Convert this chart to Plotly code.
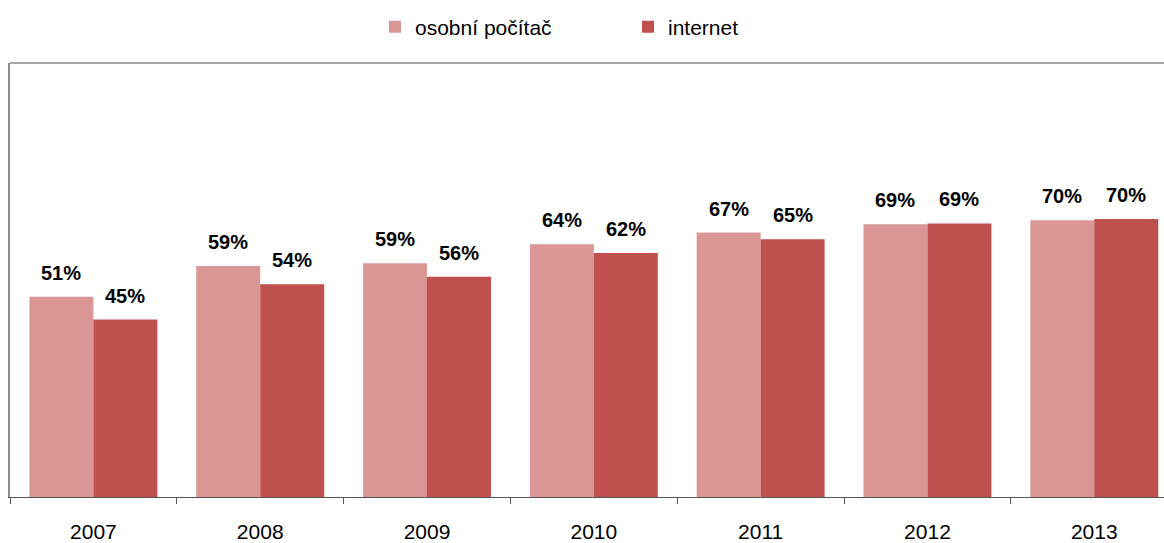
import plotly.graph_objects as go

years = ["2007", "2008", "2009", "2010", "2011", "2012", "2013"]
pc_values = [50.8, 58.6, 59.3, 64.1, 67.1, 69.2, 70.2]
pc_labels = ["51%", "59%", "59%", "64%", "67%", "69%", "70%"]
net_values = [45.0, 54.0, 55.9, 61.9, 65.4, 69.4, 70.5]
net_labels = ["45%", "54%", "56%", "62%", "65%", "69%", "70%"]

FONT = "Liberation Sans, Arial, sans-serif"

fig = go.Figure()
fig.add_trace(go.Bar(
    x=years, y=pc_values, name="osobní počítač",
    marker=dict(color="#D99694", line=dict(width=0)),
))
fig.add_trace(go.Bar(
    x=years, y=net_values, name="internet",
    marker=dict(color="#C0504D", line=dict(width=0)),
))

# value labels above bars (category index positions, shifted to each bar)
for vals, labs, shift in ((pc_values, pc_labels, -32), (net_values, net_labels, 32)):
    for i, (v, lab) in enumerate(zip(vals, labs)):
        fig.add_annotation(
            x=i, y=v, xref="x", yref="y", text="<b>" + lab + "</b>", showarrow=False,
            xanchor="center", yanchor="bottom", xshift=shift, yshift=11,
            font=dict(family=FONT, size=20, color="black"),
        )

fig.update_layout(
    width=1164, height=543,
    margin=dict(l=10, r=0, t=63, b=44),
    paper_bgcolor="white", plot_bgcolor="white",
    barmode="group", bargap=0.233, bargroupgap=0,
    font=dict(family=FONT, size=16, color="black"),
    showlegend=True,
    legend=dict(orientation="h", x=0.3163, xanchor="left", y=1.0826, yanchor="middle",
                font=dict(family=FONT, size=21, color="black"),
                entrywidth=208, entrywidthmode="pixels",
                bgcolor="rgba(0,0,0,0)"),
    xaxis=dict(
        type="category", range=[-0.5, 6.418],
        showline=True, linecolor="#555555", linewidth=1,
        ticks="outside", tickson="boundaries", ticklen=6, tickcolor="#555555",
        tickfont=dict(family=FONT, size=21, color="black"),
        ticklabelstandoff=16,
        showgrid=False, zeroline=False,
    ),
    yaxis=dict(
        range=[0, 110.1], showticklabels=False, showgrid=False, zeroline=False,
        showline=True, linecolor="#8C8C8C", linewidth=2, ticks="",
    ),
)

fig.add_shape(type="line", xref="paper", yref="paper", x0=0, x1=1, y0=1, y1=1,
              line=dict(color="#A6A6A6", width=2))

fig.write_html("out.html", config={"displayModeBar": False},
               post_script="document.body.style.margin='0px';")
